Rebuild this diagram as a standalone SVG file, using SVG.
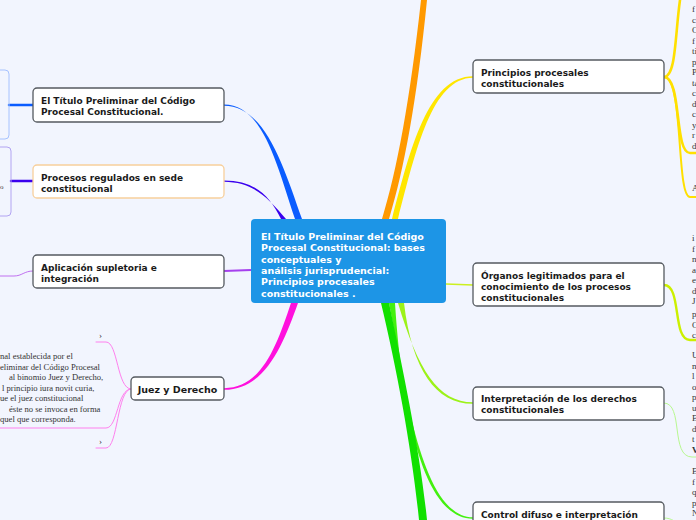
<svg xmlns="http://www.w3.org/2000/svg" width="696" height="520" viewBox="0 0 696 520">
<style>
.bg{fill:#f2f5fe}
.nb{fill:#ffffff;stroke:#555a60;stroke-width:1.3}
.nt{font-family:"DejaVu Sans",sans-serif;font-weight:bold;font-size:9px;fill:#1a1a1a}
.ct{font-family:"DejaVu Sans",sans-serif;font-weight:bold;font-size:9.5px;fill:#ffffff}
.st{font-family:"Liberation Serif",serif;font-size:9px;fill:#333333}
.c{fill:none;stroke-linecap:round}
</style>
<rect class="bg" x="0" y="0" width="696" height="520"/>
<g id="connectors">
  <path d="M295 219 C277 165 263 104.4 224 104.4 L224 105.8 C265 106 283 165 302 219 Z" fill="#0a5cff"/>
  <path d="M281 219 C270 196 255 180.4 224 180.4 L224 181.8 C254 182 268 198 286 219 Z" fill="#3a00ee"/>
  <path class="c" d="M251 270 L224 271" stroke="#a640ee" stroke-width="1.8"/>
  <path d="M291 303 C277 345 262 388.2 224 388.2 L224 389.8 C265 390 283 345 298 303 Z" fill="#ff10dd"/>
  <path d="M382 219 C397 170 410 100 421 0 L427 0 C417 100 404 170 389 219 Z" fill="#ff9900"/>
  <path d="M392 219 C410 150 428 76.3 473 76.3 L473 77.8 C432 78 416 150 398 219 Z" fill="#ffe600"/>
  <path class="c" d="M446 284 L473 285" stroke="#ccf020" stroke-width="1.6"/>
  <path d="M398 303 C418 370 438 402.3 473 402.3 L473 403.8 C436 404 412 370 404 303 Z" fill="#9cf218"/>
  <path d="M389 303 C404 380 420 517.3 473 517.3 L473 518.8 C416 519 400 380 395 303 Z" fill="#44f010"/>
  <path d="M381 303 C397 370 412 450 419 520 L427 520 C420 450 403 370 389 303 Z" fill="#11e000"/>
  <path class="c" d="M33 105 L9 105" stroke="#0a5cff" stroke-width="2.5"/>
  <path class="c" d="M33 181 L11 181" stroke="#3a00ee" stroke-width="2.5"/>
  <path class="c" d="M33 271 C24 271 22 276 14 276 L0 276" stroke="#c070f0" stroke-width="1"/>
  <path class="c" d="M131 389 C117 389 118 342 106 342 L96 342" stroke="#ff80ee" stroke-width="1"/>
  <path class="c" d="M131 389 C117 389 118 428 106 428 L0 428" stroke="#ff80ee" stroke-width="1"/>
  <path class="c" d="M131 389 C117 389 118 448 106 448 L96 448" stroke="#ff80ee" stroke-width="1"/>
  <path class="c" d="M664 77 C676 77 675 35 680 0" stroke="#ffe000" stroke-width="2.6"/>
  <path class="c" d="M664 77 C682 77 674 153 690 153 L696 153" stroke="#ffe000" stroke-width="2.6"/>
  <path class="c" d="M664 77 C684 77 676 197 690 197 L696 197" stroke="#ffe000" stroke-width="2"/>
  <path class="c" d="M664 285 C682 285 672 340 690 340 L696 340" stroke="#ccf000" stroke-width="2.4"/>
  <path class="c" d="M664 403 C684 403 670 457 692 457 L696 457" stroke="#b8f890" stroke-width="1"/>
  <path class="c" d="M664 518 C672 518 676 522 680 526" stroke="#b8f890" stroke-width="1"/>
</g>
<g id="center">
  <rect x="251" y="219" width="195" height="84" rx="4" fill="#1d95e6"/>
  <text class="ct"><tspan x="261" y="240">El Título Preliminar del Código</tspan><tspan x="261" y="251.3">Procesal Constitucional: bases</tspan><tspan x="261" y="262.6">conceptuales y</tspan><tspan x="261" y="273.9">análisis jurisprudencial:</tspan><tspan x="261" y="285.2">Principios procesales</tspan><tspan x="261" y="296.5">constitucionales .</tspan></text>
</g>
<g id="n-titulo">
  <rect class="nb" x="33" y="88" width="191" height="34" rx="4"/>
  <text class="nt"><tspan x="41" y="103.5">El Título Preliminar del Código</tspan><tspan x="41" y="114.5">Procesal Constitucional.</tspan></text>
</g>
<g id="n-procesos">
  <rect x="33" y="165" width="191" height="33" rx="4" fill="#ffffff" stroke="#f7cf9c" stroke-width="1.3"/>
  <text class="nt"><tspan x="41" y="180.5">Procesos regulados en sede</tspan><tspan x="41" y="191.5">constitucional</tspan></text>
</g>
<g id="n-aplicacion">
  <rect class="nb" x="33" y="255" width="191" height="33" rx="4"/>
  <text class="nt"><tspan x="41" y="270.5">Aplicación supletoria e</tspan><tspan x="41" y="281.5">integración</tspan></text>
</g>
<g id="n-juez">
  <rect class="nb" x="131" y="377" width="93" height="23" rx="4"/>
  <text class="nt" x="177.5" y="392.5" text-anchor="middle" style="font-size:9.5px">Juez y Derecho</text>
</g>
<g id="n-principios">
  <rect class="nb" x="473" y="60" width="191" height="33" rx="4"/>
  <text class="nt"><tspan x="481" y="75.5">Principios procesales</tspan><tspan x="481" y="86.5">constitucionales</tspan></text>
</g>
<g id="n-organos">
  <rect class="nb" x="473" y="263" width="191" height="43" rx="4"/>
  <text class="nt"><tspan x="481" y="278.5">Órganos legitimados para el</tspan><tspan x="481" y="289.5">conocimiento de los procesos</tspan><tspan x="481" y="300.5">constitucionales</tspan></text>
</g>
<g id="n-interpretacion">
  <rect class="nb" x="473" y="387" width="191" height="33" rx="4"/>
  <text class="nt"><tspan x="481" y="401.5">Interpretación de los derechos</tspan><tspan x="481" y="412.5">constitucionales</tspan></text>
</g>
<g id="n-control">
  <rect class="nb" x="473" y="502" width="191" height="30" rx="4"/>
  <text class="nt" x="481" y="517.5">Control difuso e interpretación</text>
</g>
<g id="left-edge">
  <rect x="-20" y="70" width="29" height="69" rx="4" fill="none" stroke="#a6c2ff" stroke-width="1"/>
  <rect x="-20" y="147" width="31" height="69" rx="4" fill="none" stroke="#b2a4f2" stroke-width="1"/>
  <text class="st" x="0" y="189" style="font-size:7px">o</text>
</g>
<g id="juez-text">
  <text class="st" style="font-size:8.6px">
    <tspan x="0" y="359">nal establecida por el</tspan>
    <tspan x="0" y="370">eliminar del Código Procesal</tspan>
    <tspan x="9" y="380">al binomio Juez y Derecho,</tspan>
    <tspan x="2" y="391">l principio iura novit curia,</tspan>
    <tspan x="0" y="401">ue el juez constitucional</tspan>
    <tspan x="9" y="412">éste no se invoca en forma</tspan>
    <tspan x="0" y="422">quel que corresponda.</tspan>
  </text>
  <text class="st" x="99" y="338" style="font-size:9px">›</text>
  <text class="st" x="99" y="444" style="font-size:9px">›</text>
</g>
<g id="right-edge">
  <text class="st"><tspan x="692" y="12">f</tspan><tspan x="692" y="22.5">c</tspan><tspan x="692" y="33">C</tspan><tspan x="692" y="43.5">f</tspan><tspan x="692" y="54">ti</tspan><tspan x="692" y="65">p</tspan><tspan x="692" y="75">P</tspan><tspan x="692" y="85.5">ta</tspan><tspan x="692" y="96">c</tspan><tspan x="692" y="106.5">d</tspan><tspan x="692" y="117">c</tspan><tspan x="692" y="127.5">y</tspan><tspan x="692" y="138">r</tspan><tspan x="692" y="148.5">d</tspan></text>
  <text class="st" x="692" y="191">A</text>
  <text class="st"><tspan x="692" y="241">i</tspan><tspan x="692" y="251.5">f</tspan><tspan x="692" y="262">n</tspan><tspan x="692" y="272.5">a</tspan><tspan x="692" y="283">e</tspan><tspan x="692" y="293.5">d</tspan><tspan x="692" y="304">J</tspan><tspan x="692" y="317">p</tspan><tspan x="692" y="327.5">C</tspan><tspan x="692" y="338">c</tspan></text>
  <text class="st"><tspan x="692" y="358">U</tspan><tspan x="692" y="368.5">n</tspan><tspan x="692" y="379">l</tspan><tspan x="692" y="389.5">o</tspan><tspan x="692" y="400">p</tspan><tspan x="692" y="410.5">u</tspan><tspan x="692" y="421">E</tspan><tspan x="692" y="431.5">d</tspan><tspan x="692" y="442">t</tspan><tspan x="692" y="452.5" font-weight="bold">V</tspan></text>
  <text class="st"><tspan x="692" y="474">E</tspan><tspan x="692" y="484.5">f</tspan><tspan x="692" y="495">q</tspan><tspan x="692" y="505.5">p</tspan><tspan x="692" y="516">N</tspan></text>
</g>
</svg>
